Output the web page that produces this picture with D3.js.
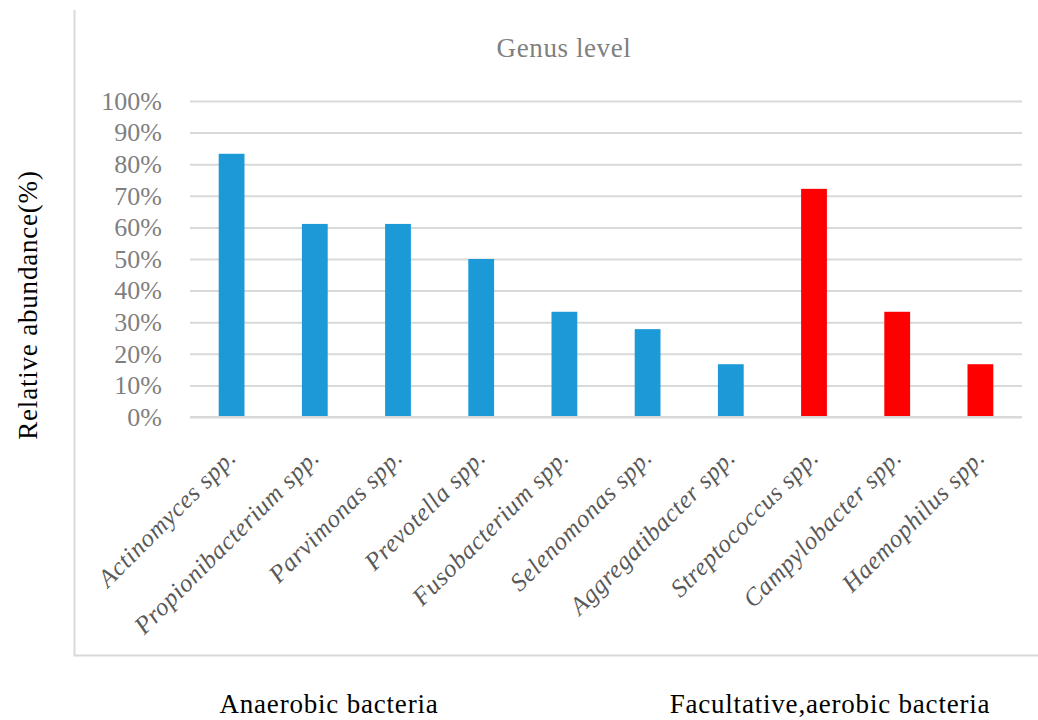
<!DOCTYPE html>
<html>
<head>
<meta charset="utf-8">
<script src="https://cdn.jsdelivr.net/npm/d3@7"></script>
<style>
  html, body { margin: 0; padding: 0; background: #fff; }
  svg { display: block; }
  text { font-family: "Liberation Serif", "DejaVu Serif", serif; }
</style>
</head>
<body>
<svg id="chart" width="1038" height="720"></svg>
<script>
// Genus-level relative abundance (fraction of samples)
const genera = [
  "Actinomyces spp.", "Propionibacterium spp.", "Parvimonas spp.", "Prevotella spp.",
  "Fusobacterium spp.", "Selenomonas spp.", "Aggregatibacter spp.",
  "Streptococcus spp.", "Campylobacter spp.", "Haemophilus spp."
];
const abundance = [0.833, 0.611, 0.611, 0.500, 0.333, 0.278, 0.167, 0.722, 0.333, 0.167];
const groups = ["anaerobic", "anaerobic", "anaerobic", "anaerobic", "anaerobic", "anaerobic", "anaerobic",
                "facultative", "facultative", "facultative"];
const groupLabels = ["Anaerobic bacteria", "Facultative,aerobic bacteria"];
const yTicks = [0, 0.1, 0.2, 0.3, 0.4, 0.5, 0.6, 0.7, 0.8, 0.9, 1.0];

const colors = { anaerobic: "#1b9ad7", facultative: "#ff0000" };

const svg = d3.select("#chart");
const plot = { left: 190, right: 1022, top: 101, bottom: 417 };

const x = d3.scaleBand().domain(genera).range([plot.left, plot.right]).paddingInner(0.69).paddingOuter(0.345);
const y = d3.scaleLinear().domain([0, 1]).range([plot.bottom, plot.top]);

// outer frame (left and bottom edges)
svg.append("path")
  .attr("d", "M74.5,10 V655.5 H1038")
  .attr("fill", "none").attr("stroke", "#d9d9d9").attr("stroke-width", 2);

// title
svg.append("text").attr("x", 564).attr("y", 57).attr("text-anchor", "middle")
  .attr("font-size", 27).attr("letter-spacing", 0.6).attr("fill", "#808080").text("Genus level");

// gridlines + y tick labels
const yAxis = d3.axisLeft(y).tickValues(yTicks).tickFormat(d3.format(".0%"))
  .tickSize(-(plot.right - plot.left)).tickPadding(28);
const gy = svg.append("g").attr("transform", `translate(${plot.left},0)`).call(yAxis);
gy.select(".domain").remove();
gy.selectAll(".tick line").attr("stroke", "#d9d9d9").attr("stroke-width", 2);
gy.selectAll(".tick text").attr("fill", "#7f7f7f").attr("font-size", 26)
  .style("font-family", "'Liberation Serif', serif");

// bars
svg.append("g").selectAll("rect").data(genera).join("rect")
  .attr("x", d => x(d))
  .attr("width", x.bandwidth())
  .attr("y", (d, i) => y(abundance[i]))
  .attr("height", (d, i) => y(0) - y(abundance[i]))
  .attr("fill", (d, i) => colors[groups[i]]);

// baseline
svg.append("line").attr("x1", plot.left).attr("x2", plot.right)
  .attr("y1", y(0)).attr("y2", y(0)).attr("stroke", "#d9d9d9").attr("stroke-width", 2);

// rotated category labels
svg.append("g").selectAll("text").data(genera).join("text")
  .attr("transform", d => `translate(${x(d) + x.bandwidth() / 2 + 6},${y(0) + 42}) rotate(-45)`)
  .attr("text-anchor", "end")
  .attr("font-size", 25).attr("letter-spacing", 0.6).attr("font-style", "italic").attr("fill", "#595959")
  .text(d => d);

// y axis title
svg.append("text").attr("transform", "translate(37,305) rotate(-90)")
  .attr("text-anchor", "middle").attr("font-size", 27).attr("letter-spacing", 0.8).attr("fill", "#000")
  .text("Relative abundance(%)");

// group labels below the frame
const groupCenters = [329, 830];
svg.append("g").selectAll("text").data(groupLabels).join("text")
  .attr("x", (d, i) => groupCenters[i]).attr("y", 713)
  .attr("text-anchor", "middle").attr("font-size", 27).attr("letter-spacing", 0.8).attr("fill", "#000")
  .text(d => d);
</script>
</body>
</html>
